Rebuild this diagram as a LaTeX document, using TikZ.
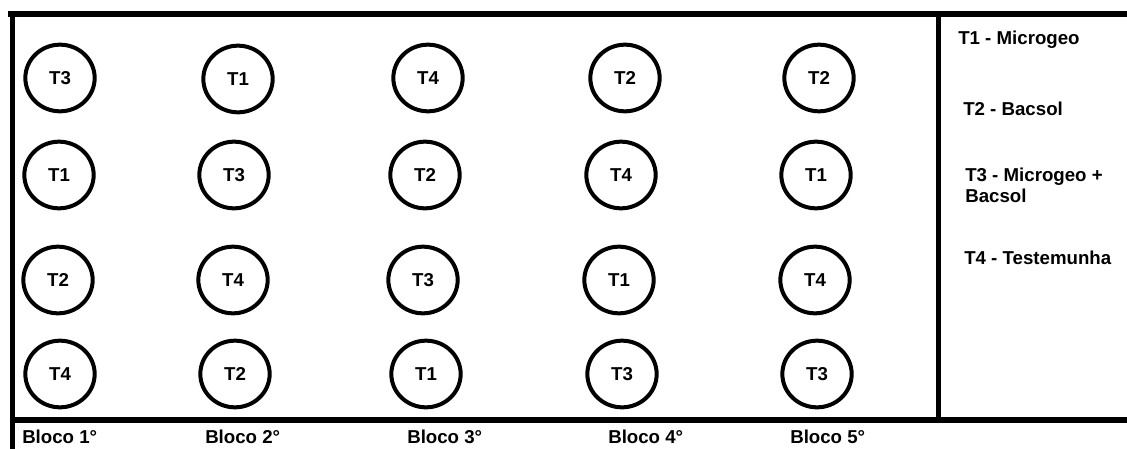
\documentclass[tikz,border=0pt]{standalone}
\usepackage{fontspec}
\setmainfont{Liberation Sans}
\usepackage{tikz}
\usetikzlibrary{shapes.geometric}

\begin{document}
\begin{tikzpicture}[
    x=0.75pt, y=-0.75pt,
    font=\fontsize{14pt}{16pt}\selectfont\bfseries,
    plot/.style={draw=black, line width=3pt, ellipse, minimum width=52pt, minimum height=50pt, inner sep=0pt},
    frame/.style={draw=black, line width=4.5pt},
    divider/.style={draw=black, line width=3.75pt},
    legend/.style={anchor=west, align=left, inner sep=0pt},
    block/.style={anchor=west, inner sep=0pt}
]
\useasboundingbox (0,0) rectangle (1127,449);

% field borders
\draw[frame] (8,14) -- (1127,14);
\draw[frame] (12,420) -- (1127,420);
\draw[divider] (12,11) -- (12,449);
\draw[divider] (938,14) -- (938,420);

% Bloco 1
\node[plot] (b1p1) at (60,78) {T3};
\node[plot] (b1p2) at (59,175) {T1};
\node[plot] (b1p3) at (58,280) {T2};
\node[plot] (b1p4) at (60,374) {T4};

% Bloco 2
\node[plot] (b2p1) at (238,79) {T1};
\node[plot] (b2p2) at (234,175) {T3};
\node[plot] (b2p3) at (233,280) {T4};
\node[plot] (b2p4) at (235,374) {T2};

% Bloco 3
\node[plot] (b3p1) at (428,78) {T4};
\node[plot] (b3p2) at (425,175) {T2};
\node[plot] (b3p3) at (423,280) {T3};
\node[plot] (b3p4) at (426,374) {T1};

% Bloco 4
\node[plot] (b4p1) at (625,78) {T2};
\node[plot] (b4p2) at (621,175) {T4};
\node[plot] (b4p3) at (619,280) {T1};
\node[plot] (b4p4) at (622,374) {T3};

% Bloco 5
\node[plot] (b5p1) at (819,78) {T2};
\node[plot] (b5p2) at (816,175) {T1};
\node[plot] (b5p3) at (815,280) {T4};
\node[plot] (b5p4) at (817,374) {T3};

% block labels
\node[block] (bloco1) at (22,437) {Bloco 1°};
\node[block] (bloco2) at (205,437) {Bloco 2°};
\node[block] (bloco3) at (407,437) {Bloco 3°};
\node[block] (bloco4) at (608,437) {Bloco 4°};
\node[block] (bloco5) at (790,437) {Bloco 5°};

% treatments
\node[legend] (t1) at (958,40) {T1 - Microgeo};
\node[legend] (t2) at (963,109) {T2 - Bacsol};
\node[legend] (t3) at (965,185) {T3 - Microgeo +\\Bacsol};
\node[legend] (t4) at (964,258) {T4 - Testemunha};
\end{tikzpicture}
\end{document}
